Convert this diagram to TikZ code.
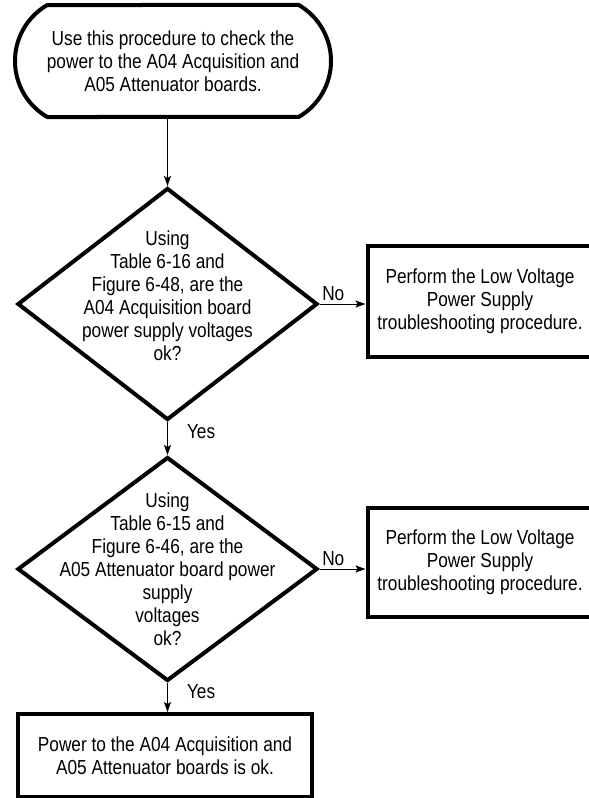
\documentclass[tikz,border=0pt]{standalone}
\usepackage{fontspec}
\setmainfont{Liberation Sans}[FakeStretch=0.85]
\usetikzlibrary{arrows.meta, shapes.geometric, shapes.misc, positioning}

\begin{document}
\begin{tikzpicture}[
  x=1bp, y=1bp,
  every node/.style={font=\fontsize{20.3bp}{23bp}\selectfont},
  terminal/.style={rounded rectangle, rounded rectangle arc length=120, draw, line width=4bp, minimum width=320bp, minimum height=112bp, inner sep=2bp, align=center},
  decision/.style={diamond, draw, line width=4bp, inner sep=0pt, minimum width=300bp, minimum height=232bp},
  qtext/.style={align=center, inner sep=0pt},
  action/.style={rectangle, draw, line width=4bp, minimum width=225bp, minimum height=111bp, inner sep=2bp, align=center},
  arrow/.style={-{Stealth[length=10bp, width=7bp, inset=2bp]}, line width=1bp},
  lbl/.style={inner sep=1bp}
]

% page frame
\useasboundingbox (0,0) rectangle (589,-798);

% start
\node[terminal] (start) at (173,-61) {Use this procedure to check the\\power to the A04 Acquisition and\\A05 Attenuator boards.};

% first check: A04 board
\node[decision, below=67bp of start, xshift=-5.5bp] (check1) {};
\node[qtext, yshift=8bp] (check1txt) at (check1) {Using\\Table 6-16 and\\Figure 6-48, are the\\A04 Acquisition board\\power supply voltages\\ok?};
\node[action, right=46bp of check1, yshift=2.5bp] (fix1) {Perform the Low Voltage\\Power Supply\\troubleshooting procedure.};

% second check: A05 board
\node[decision, minimum height=224bp, below=33bp of check1] (check2) {};
\node[qtext] (check2txt) at (check2) {Using\\Table 6-15 and\\Figure 6-46, are the\\A05 Attenuator board power\\supply\\voltages\\ok?};
\node[action, minimum height=109bp, right=46bp of check2, yshift=6.5bp] (fix2) {Perform the Low Voltage\\Power Supply\\troubleshooting procedure.};

% end
\node[action, minimum width=294bp, minimum height=83bp, below=29bp of check2, xshift=-2.5bp] (done) {Power to the A04 Acquisition and\\A05 Attenuator boards is ok.};

% arrows
\draw[arrow] (start.south -| check1.north) -- (check1.north);
\draw[arrow] (check1.east) -- node[above=2bp, lbl, pos=0.3] {No} (check1.east -| fix1.west);
\draw[arrow] (check1.south) -- node[right=18bp, lbl, pos=0.3] {Yes} (check2.north);
\draw[arrow] (check2.east) -- node[above=2bp, lbl, pos=0.3] {No} (check2.east -| fix2.west);
\draw[arrow] (check2.south) -- node[right=18bp, lbl, pos=0.3] {Yes} (done.north -| check2.south);

\end{tikzpicture}
\end{document}
